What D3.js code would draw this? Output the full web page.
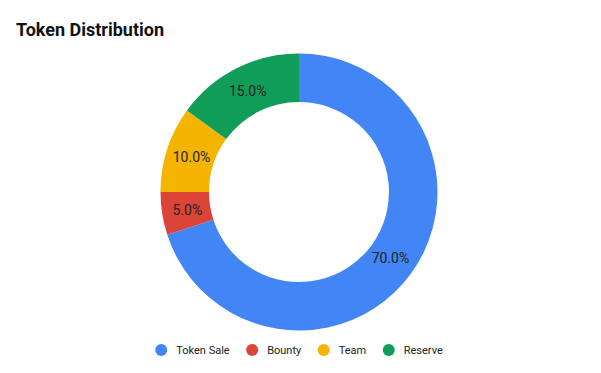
<!DOCTYPE html>
<html><head><meta charset="utf-8">
<script src="https://cdn.jsdelivr.net/npm/d3@7"></script>
<style>body{margin:0;background:#fff}svg{display:block}</style>
</head><body>
<svg id="c" width="601" height="373"></svg>
<script>
const categories = ["Token Sale", "Bounty", "Team", "Reserve"];
const values = [70, 5, 10, 15];
const colors = ["#4285F4", "#DB4437", "#F4B400", "#0F9D58"];
const title = "Token Distribution";

const svg = d3.select("#c");
const cx = 299, cy = 192, rOuter = 138.5, rInner = 90;

svg.append("text").attr("x", 16).attr("y", 36)
  .attr("font-family", "Roboto").attr("font-weight", "bold").attr("font-size", 18)
  .attr("fill", "#111").text(title);

const data = categories.map((c, i) => ({name: c, value: values[i], color: colors[i]}));
const pie = d3.pie().value(d => d.value).sort(null);
const arcs = pie(data);
const total = d3.sum(values);
const arc = d3.arc().innerRadius(rInner).outerRadius(rOuter);
const labelArc = d3.arc().innerRadius(113).outerRadius(113);

const g = svg.append("g").attr("transform", `translate(${cx},${cy})`);
g.selectAll("path").data(arcs).join("path")
  .attr("d", arc).attr("fill", d => d.data.color);
g.selectAll("text").data(arcs).join("text")
  .attr("transform", d => `translate(${labelArc.centroid(d)})`)
  .attr("text-anchor", "middle").attr("dy", "0.35em")
  .attr("font-family", "Roboto").attr("font-size", 14)
  .attr("fill", "#222")
  .text(d => (d.data.value / total * 100).toFixed(1) + "%");

// legend
const lg = svg.append("g");
const items = lg.selectAll("g").data(data).join("g");
items.append("circle").attr("r", 6).attr("cy", 0).attr("fill", d => d.color);
items.append("text").attr("x", 15).attr("dy", "0.35em")
  .attr("font-family", "Roboto").attr("font-size", 11).attr("fill", "#222")
  .text(d => d.name);
let x = 0;
const gap = 16.5;
items.each(function(d) {
  const tw = this.querySelector("text").getComputedTextLength();
  d3.select(this).attr("transform", `translate(${x + 6},0)`);
  x += 6 + 15 + tw + gap;
});
const totalW = x - gap;
lg.attr("transform", `translate(${cx - totalW / 2},350)`);
</script>
</body></html>
